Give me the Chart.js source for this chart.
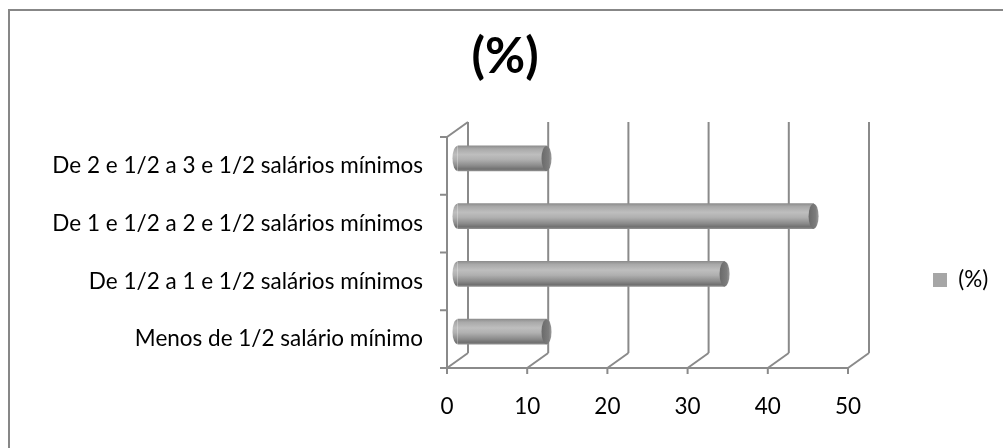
<!DOCTYPE html>
<html>
<head>
<meta charset="utf-8">
<script src="https://cdn.jsdelivr.net/npm/chart.js@4.4.1/dist/chart.umd.min.js"></script>
<style>
  html, body { margin: 0; padding: 0; background: #fff; }
  #wrap { width: 1003px; height: 448px; position: relative; }
</style>
</head>
<body>
<div id="wrap"><canvas id="chart"></canvas></div>
<script>
// Income bands (bottom to top) and share of respondents in each
const categories = [
  'Menos de 1/2 salário mínimo',
  'De 1/2 a 1 e 1/2 salários mínimos',
  'De 1 e 1/2 a 2 e 1/2 salários mínimos',
  'De 2 e 1/2 a 3 e 1/2 salários mínimos'
];
const seriesLabel = '(%)';
const percentValues = [11.1, 33.3, 44.4, 11.1];
const xTickValues = [0, 10, 20, 30, 40, 50];

// ---- layout constants ----
const W = 1003, H = 448;
const FONT = 'Lato';
const LINE = '#8a8a8a';
const SWATCH = '#a6a6a6';
const DX = 21, DY = 15;              // depth of the pseudo-3D box
const AREA = { left: 457.5, right: 858.5, top: 129.5, bottom: 360.5 }; // mid-depth plane
const PAD = { left: 12, top: 8, bottom: 0 };
const BAR_T = 25;
const TITLE_SIZE = 49, TITLE_CENTER = 57.5;
const LABEL_SIZE = 22.5;
const LEGEND_SIZE = 22.5, LEGEND_BOX = 14, LEGEND_BOX_X = 933;

// title padding so that the plot starts at AREA.top
const titleLine = TITLE_SIZE * 1.2;
const titlePadTop = TITLE_CENTER - PAD.top - titleLine / 2;
const titlePadBottom = AREA.top - PAD.top - titlePadTop - titleLine;

// legend width so that the plot ends at AREA.right
const mctx = document.createElement('canvas').getContext('2d');
mctx.font = LEGEND_SIZE + 'px ' + FONT;
const legendPad = LEGEND_BOX_X - AREA.right;
const legendWidth = LEGEND_BOX + LEGEND_SIZE / 2 + mctx.measureText(seriesLabel).width + legendPad + 10;
const padRight = W - AREA.right - legendWidth;

function cylinderFill(context) {
  const chart = context.chart;
  const yScale = chart.scales && chart.scales.y;
  if (!yScale || context.dataIndex === undefined) return SWATCH;
  const cy = yScale.getPixelForValue(context.dataIndex);
  const g = chart.ctx.createLinearGradient(0, cy - BAR_T / 2, 0, cy + BAR_T / 2);
  g.addColorStop(0.00, '#8e8e8e');
  g.addColorStop(0.12, '#a9a9a9');
  g.addColorStop(0.35, '#bebebe');
  g.addColorStop(0.55, '#b0b0b0');
  g.addColorStop(0.80, '#8a8a8a');
  g.addColorStop(0.93, '#707070');
  g.addColorStop(1.00, '#8e8e8e');
  return g;
}

// white page with the chart frame
const framePlugin = {
  id: 'frame',
  beforeDraw(chart) {
    const ctx = chart.ctx;
    ctx.save();
    ctx.fillStyle = '#fff';
    ctx.fillRect(0, 0, chart.width, chart.height);
    ctx.strokeStyle = '#878787';
    ctx.lineWidth = 2;
    ctx.strokeRect(9, 10, 1100, 500);
    ctx.restore();
  }
};

// back wall gridlines, floor and the front axes of the 3D box
const wallPlugin = {
  id: 'wall3d',
  beforeDatasetsDraw(chart) {
    const { ctx, chartArea: a, scales: { x, y } } = chart;
    const fx = -DX / 2, fy = DY / 2, bx = DX / 2, by = -DY / 2;
    ctx.save();
    ctx.strokeStyle = LINE;
    ctx.lineWidth = 2;
    ctx.lineCap = 'butt';
    const seg = (x1, y1, x2, y2) => { ctx.beginPath(); ctx.moveTo(x1, y1); ctx.lineTo(x2, y2); ctx.stroke(); };
    x.ticks.forEach(t => {
      const px = x.getPixelForValue(t.value);
      seg(px + bx, a.top + by, px + bx, a.bottom + by);           // back wall
      seg(px + fx, a.bottom + fy, px + bx, a.bottom + by);        // floor diagonal
      seg(px + fx, a.bottom + fy, px + fx, a.bottom + fy + 6);    // tick mark
    });
    const x0 = x.getPixelForValue(x.min), x1 = x.getPixelForValue(x.max);
    seg(x0 + fx - 1, a.bottom + fy, x1 + fx + 1, a.bottom + fy);  // front floor edge
    seg(x0 + fx, a.top + fy, x0 + fx, a.bottom + fy + 1);         // side wall edge
    seg(x0 + fx, a.top + fy, x0 + bx, a.top + by);                // side wall top
    for (let i = 0; i <= categories.length; i++) {
      const py = y.getPixelForValue(i - 0.5) + fy;
      seg(x0 + fx - 7, py, x0 + fx, py);
    }
    ctx.restore();
  }
};

// rounded left end and the flat cap of each cylinder
const cylinderPlugin = {
  id: 'cylinderEnds',
  afterDatasetsDraw(chart) {
    const ctx = chart.ctx;
    const meta = chart.getDatasetMeta(0);
    ctx.save();
    meta.data.forEach(el => {
      const ry = el.height / 2, rx = 5;
      ctx.fillStyle = el.options.backgroundColor;
      ctx.beginPath();
      ctx.ellipse(el.base, el.y, rx, ry, 0, Math.PI / 2, Math.PI * 3 / 2);
      ctx.closePath();
      ctx.fill();
      const g = ctx.createLinearGradient(el.x - rx, 0, el.x + rx, 0);
      g.addColorStop(0, '#6a6a6a');
      g.addColorStop(0.7, '#7c7c7c');
      g.addColorStop(1, '#9a9a9a');
      ctx.fillStyle = g;
      ctx.beginPath();
      ctx.ellipse(el.x, el.y, rx, ry, 0, 0, Math.PI * 2);
      ctx.fill();
    });
    ctx.restore();
  }
};

// vertical placement of the legend entry
const legendShiftPlugin = {
  id: 'legendShift',
  afterLayout(chart) {
    if (chart.legend) { chart.legend.top += 52; chart.legend.bottom += 52; }
  }
};

new Chart(document.getElementById('chart'), {
  type: 'bar',
  data: {
    labels: categories,
    datasets: [{
      label: seriesLabel,
      data: percentValues,
      backgroundColor: cylinderFill,
      borderWidth: 0,
      barThickness: BAR_T
    }]
  },
  options: {
    indexAxis: 'y',
    responsive: true,
    maintainAspectRatio: false,
    animation: false,
    devicePixelRatio: 1,
    layout: { padding: { left: PAD.left, top: PAD.top, right: padRight, bottom: PAD.bottom } },
    scales: {
      x: {
        type: 'linear',
        min: 0, max: 50,
        afterBuildTicks: s => { s.ticks = xTickValues.map(v => ({ value: v })); },
        afterFit: s => { s.height = H - PAD.bottom - AREA.bottom; },
        grid: { display: false, drawTicks: false },
        border: { display: false },
        ticks: { color: '#000', font: { family: FONT, size: LABEL_SIZE }, padding: 32.5, labelOffset: -DX / 2, maxRotation: 0 }
      },
      y: {
        reverse: true,
        afterFit: s => { s.width = AREA.left - PAD.left; },
        grid: { display: false, drawTicks: false },
        border: { display: false },
        ticks: { color: '#000', font: { family: FONT, size: LABEL_SIZE }, padding: 34.5, labelOffset: DY / 2 }
      }
    },
    plugins: {
      title: {
        display: true,
        text: seriesLabel,
        color: '#000',
        font: { family: FONT, size: TITLE_SIZE, weight: 'bold' },
        padding: { top: titlePadTop, bottom: titlePadBottom }
      },
      legend: {
        position: 'right',
        labels: {
          boxWidth: LEGEND_BOX,
          boxHeight: LEGEND_BOX,
          padding: legendPad,
          color: '#000',
          font: { family: FONT, size: LEGEND_SIZE },
          generateLabels: chart => chart.data.datasets.map((ds, i) => ({
            text: ds.label, fillStyle: SWATCH, strokeStyle: SWATCH, lineWidth: 0,
            hidden: false, datasetIndex: i, fontColor: '#000'
          }))
        }
      },
      tooltip: { enabled: false }
    }
  },
  plugins: [framePlugin, wallPlugin, cylinderPlugin, legendShiftPlugin]
});
</script>
</body>
</html>
